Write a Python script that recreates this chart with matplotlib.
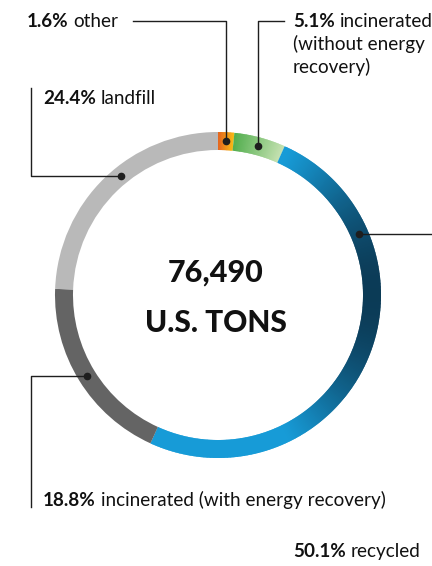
"""
Donut chart: where 76,490 U.S. tons end up
"""
import matplotlib.pyplot as plt
import numpy as np
from matplotlib.patches import Wedge
from matplotlib.colors import to_rgb

plt.rcParams['font.family'] = ['Lato', 'DejaVu Sans']

# data
shares = [1.6, 5.1, 50.1, 18.8, 24.4]
pct_labels = ['1.6%', '5.1%', '50.1%', '18.8%', '24.4%']
names = ['other', 'incinerated', 'recycled', 'incinerated (with energy recovery)', 'landfill']
total_label = '76,490'
unit_label = 'U.S. TONS'

W, H = 432, 566
cx, cy = 218, H - 295      # centre of the ring (y measured up)
r_out, width = 163, 18
r_mid = r_out - width / 2

fig = plt.figure(figsize=(W / 100, H / 100), dpi=100)
ax = fig.add_axes([0, 0, 1, 1])
ax.set_xlim(0, W)
ax.set_ylim(0, H)
ax.axis('off')

def mix(c1, c2, t):
    a, b = np.array(to_rgb(c1)), np.array(to_rgb(c2))
    return tuple(a + (b - a) * min(max(t, 0), 1))

def colour(i, frac, xm):
    if i == 0:
        return mix('#e4641f', '#f8bb16', frac)
    if i == 1:
        return mix('#52ae4e', '#c6e2b2', frac)
    if i == 2:
        t = (xm - 285) / 95
        return mix('#179bd7', '#0a3048', t ** 1.2 if t > 0 else 0)
    if i == 3:
        return '#646464'
    return '#b9b9b9'

# ring, clockwise from 12 o'clock
cum = np.concatenate([[0], np.cumsum(shares)])
for i in range(len(shares)):
    a_start = 90 - cum[i] * 3.6
    a_end = 90 - cum[i + 1] * 3.6
    n = 1 if i >= 3 else max(int((a_start - a_end) * 2), 2)
    edges = np.linspace(a_start, a_end, n + 1)
    for k in range(n):
        am = np.radians((edges[k] + edges[k + 1]) / 2)
        xm = cx + r_mid * np.cos(am)
        c = colour(i, (k + 0.5) / n, xm)
        t1 = max(edges[k + 1] - 0.4, a_end)   # small overlap hides seams
        ax.add_patch(Wedge((cx, cy), r_out, t1, edges[k], width=width,
                           facecolor=c, lw=0))

# leader lines
mid_angles = 90 - (cum[:-1] + np.array(shares) / 2) * 3.6
anchor = list(mid_angles)
anchor[2] = 23.4
anchor[4] = 129.2
lc = '#1e1e1e'

def dot(i):
    a = np.radians(anchor[i])
    x, y = cx + r_mid * np.cos(a), cy + r_mid * np.sin(a)
    ax.plot(x, y, 'o', color=lc, ms=4.5, zorder=5)
    return x, y

x, y = dot(0)
ax.plot([x, x, 133], [y, H - 20.5, H - 20.5], color=lc, lw=1)
x, y = dot(1)
ax.plot([x, x, 284], [y, H - 20.5, H - 20.5], color=lc, lw=1)
x, y = dot(2)
ax.plot([x, W + 10], [y, y], color=lc, lw=1)
x, y = dot(3)
ax.plot([x, 31, 31], [y, y, H - 507], color=lc, lw=1)
x, y = dot(4)
ax.plot([x, 31, 31], [y, y, H - 88], color=lc, lw=1)

# labels
def label(px, py, i, fs=13.6):
    b = ax.text(px, H - py, pct_labels[i], fontsize=fs, fontweight='bold',
                color='#111111', va='baseline', ha='left')
    ax.annotate(names[i], xy=(1, 0), xycoords=b, xytext=(3.5, 0),
                textcoords='offset points', fontsize=fs, color='#111111',
                va='bottom', ha='left')

label(27, 27, 0)
label(293, 27, 1)
ax.text(293, H - 50, '(without energy', fontsize=13.6, color='#111111', va='baseline')
ax.text(293, H - 73, 'recovery)', fontsize=13.6, color='#111111', va='baseline')
label(43, 104, 4)
label(43, 506, 3)
label(293, 557, 2)

# centre text
ax.text(216, H - 282, total_label, fontsize=22, fontweight='black', ha='center',
        va='baseline', color='#111111')
ax.text(216, H - 332, unit_label, fontsize=21.5, fontweight='black', ha='center',
        va='baseline', color='#111111')

fig.savefig('out.png', dpi=100)
